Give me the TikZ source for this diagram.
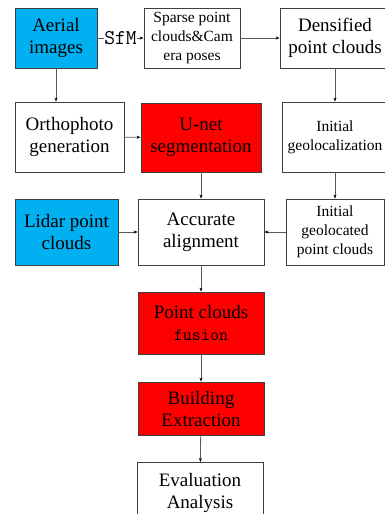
\documentclass[tikz,border=0pt]{standalone}
\usepackage{fontspec}
\setmainfont{Liberation Serif}
\usetikzlibrary{arrows.meta}
\definecolor{skyblue}{HTML}{00B0F0}
\definecolor{boxred}{HTML}{FF0000}
\definecolor{edgegray}{HTML}{3F3F3F}
\definecolor{linegray}{HTML}{595959}

\begin{document}
\begin{tikzpicture}[x=1pt, y=-1pt,
    box/.style={draw=edgegray, line width=0.8pt, align=center, inner sep=1pt,
      font=\fontsize{19}{22}\selectfont},
    smallbox/.style={box, font=\fontsize{15.5}{19}\selectfont},
    arr/.style={draw=linegray, line width=0.8pt, -{Stealth[length=4pt,width=3pt,black]}}]
  \useasboundingbox (0,0) rectangle (385,514);
  % Top row
  \node[box, fill=skyblue, minimum width=82pt, minimum height=60pt] (aerial) at (56,38) {Aerial\\images};
  \node[smallbox, minimum width=96pt, minimum height=60pt] (sparse) at (192,38) {Sparse point\\clouds\&Cam\\era poses};
  \node[box, minimum width=110pt, minimum height=60pt] (dense) at (335,38) {Densified\\point clouds};
  % Second row
  \node[box, minimum width=109pt, minimum height=70pt] (ortho) at (69.5,137) {Orthophoto\\generation};
  \node[box, fill=boxred, minimum width=120pt, minimum height=69pt] (unet) at (201,137.5) {U-net\\segmentation};
  \node[smallbox, minimum width=106pt, minimum height=70pt] (initgeo) at (335,137) {Initial\\geolocalization};
  % Third row
  \node[box, fill=skyblue, minimum width=103pt, minimum height=66pt] (lidar) at (66.5,232) {Lidar point\\clouds};
  \node[box, minimum width=126pt, minimum height=66pt] (align) at (201,232) {Accurate\\alignment};
  \node[smallbox, minimum width=98pt, minimum height=66pt] (geoloc) at (335,232) {Initial\\geolocated\\point clouds};
  % Main column
  \node[box, fill=boxred, minimum width=126pt, minimum height=62pt] (fusion) at (201,323) {Point clouds\\{\ttfamily\fontsize{17.5}{22}\selectfont fusion}};
  \node[box, fill=boxred, minimum width=126pt, minimum height=53pt] (build) at (201,408.5) {Building\\Extraction};
  \node[box, minimum width=126pt, minimum height=62pt, anchor=north] (eval) at (200,462) {Evaluation\\Analysis};
  % Connectors
  \draw[arr] (aerial) -- node[fill=white, inner sep=0.5pt, font=\ttfamily\fontsize{21}{22}\selectfont] {SfM} (sparse);
  \draw[arr] (sparse) -- (dense);
  \draw[arr] (aerial) -- (ortho.north -| aerial);
  \draw[arr] (dense) -- (initgeo);
  \draw[arr] (ortho) -- (unet);
  \draw[arr] (unet) -- (align);
  \draw[arr] (initgeo) -- (geoloc);
  \draw[arr] (lidar) -- (align);
  \draw[arr] (geoloc) -- (align);
  \draw[arr] (align) -- (fusion);
  \draw[arr] (fusion) -- (build);
  \draw[arr] (build) -- (eval);
\end{tikzpicture}
\end{document}
